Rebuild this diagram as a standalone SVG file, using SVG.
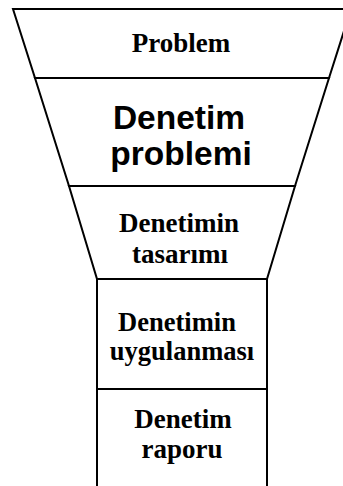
<svg xmlns="http://www.w3.org/2000/svg" width="343" height="486" viewBox="0 0 343 486">
  <style>
    .stage { fill: #ffffff; stroke: #000000; stroke-width: 2; stroke-linejoin: miter; }
    .serif { font-family: "Liberation Serif", "Times New Roman", serif; font-weight: bold; font-size: 27px; fill: #000000; text-anchor: middle; }
    .sans { font-family: "Liberation Sans", Arial, sans-serif; font-weight: bold; font-size: 33.5px; fill: #000000; text-anchor: middle; }
  </style>
  <rect width="343" height="486" fill="#ffffff"/>

  <!-- funnel stages, top to bottom -->
  <g id="problem">
    <polygon class="stage" points="13,9 351,9 329,78 35,78"/>
    <text class="serif" x="181" y="52">Problem</text>
  </g>

  <g id="denetim-problemi">
    <polygon class="stage" points="35,78 329,78 295,186 69,186"/>
    <text class="sans" y="129"><tspan x="179">Denetim</tspan><tspan x="181" dy="36">problemi</tspan></text>
  </g>

  <g id="denetimin-tasarimi">
    <polygon class="stage" points="69,186 295,186 267,279 97,279"/>
    <text class="serif" y="232"><tspan x="179">Denetimin</tspan><tspan x="180" dy="31">tasarımı</tspan></text>
  </g>

  <g id="denetimin-uygulanmasi">
    <rect class="stage" x="97" y="279" width="170" height="110"/>
    <text class="serif" style="font-size:26.5px" y="330.5"><tspan x="177">Denetimin</tspan><tspan x="182" dy="29.5">uygulanması</tspan></text>
  </g>

  <g id="denetim-raporu">
    <rect class="stage" x="97" y="389" width="170" height="105"/>
    <text class="serif" y="428"><tspan x="183">Denetim</tspan><tspan x="182" dy="30">raporu</tspan></text>
  </g>

  <!-- no connectors: stages share their edges -->
  <g id="connectors"/>
</svg>
